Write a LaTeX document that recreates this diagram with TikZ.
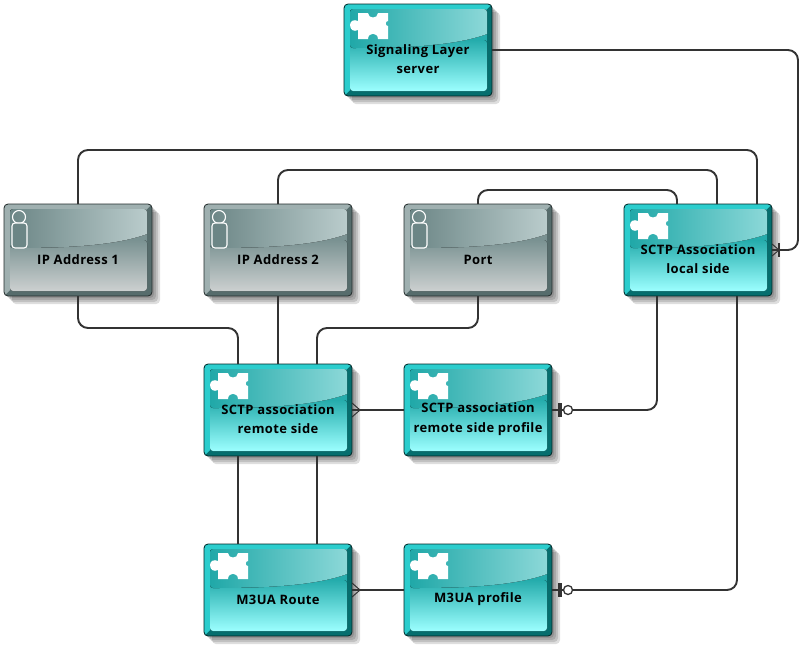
\documentclass[tikz,border=0pt]{standalone}
\usepackage{fontspec}
\setmainfont[LetterSpace=3]{Open Sans}
\usetikzlibrary{backgrounds,decorations.markings}
\definecolor{tealedge}{HTML}{2CCDCD}
\definecolor{tealdark}{HTML}{056E6E}
\definecolor{tealglossl}{HTML}{20A8A8}
\definecolor{tealglossr}{HTML}{8CD8D8}
\definecolor{tealtop}{HTML}{25ACAC}
\definecolor{teallow}{HTML}{9CFFFF}
\definecolor{greyedge}{HTML}{9FB0B0}
\definecolor{greydark}{HTML}{566C6C}
\definecolor{greyglossl}{HTML}{6C8686}
\definecolor{greyglossr}{HTML}{BACCCC}
\definecolor{greytop}{HTML}{7A9292}
\definecolor{greylow}{HTML}{CCD0D0}
\definecolor{linkcolor}{HTML}{333333}
% face of a box: soft shadow, edges, lower gradient, gloss
\newcommand{\boxface}[1]{
    \foreach \s in {2,4,6,8}
        \fill[black,opacity=0.13,rounded corners=4pt] (\s,\s) rectangle (148+\s,92+\s);
    \begin{scope}
        \clip[rounded corners=4pt] (0,0) rectangle (148,92);
        \fill[#1dark] (0,0) rectangle (148,92);
        \fill[#1edge] (0,0) -- (148,0) -- (142,6) -- (6,6) -- (6,86) -- (0,92) -- cycle;
    \end{scope}
    \fill[#1top] (6,20) rectangle (143,50);
    \fill[rounded corners=3pt,top color=#1top,bottom color=#1low] (6,36) rectangle (143,87);
    \fill[left color=#1glossl,right color=#1glossr] (6,44) .. controls (60,44) and (110,42) .. (143,30)
        -- (143,8) [rounded corners=3pt] -- (143,5) -- (6,5) -- cycle;
}
\begin{document}
\begin{tikzpicture}[x=1pt,y=-1pt]
    \tikzset{basebox/.style = {shape=rectangle, rounded corners=4pt, draw=black!70!teal, line width=0.8pt,
        minimum width=148pt, minimum height=92pt, inner sep=0pt, outer sep=0pt, align=center,
        font=\fontsize{13}{19.5}\selectfont\bfseries,
        execute at begin node={\rule{0pt}{29pt}}}}
    \tikzset{twolines/.style = {execute at begin node={\rule{0pt}{48pt}}}}
    \tikzset{entity/.style = {basebox}}
    \tikzset{attribute/.style = {basebox, draw=black!60!greydark}}
    \tikzset{entityface/.pic = {
        \boxface{teal}
        \fill[white] (14,9) -- (24,9) .. controls (24,15) and (34,15) .. (34,9) -- (44,9) -- (44,17)
            .. controls (41,17) and (41,22) .. (44,22) -- (44,35) -- (34,35) .. controls (34,28) and (24,28) .. (24,35)
            -- (14,35) -- (14,26) .. controls (10,28) and (6,26) .. (6,21) .. controls (6,17) and (10,15) .. (14,17) -- cycle;}}
    \tikzset{attributeface/.pic = {
        \boxface{grey}
        \draw[white,line width=1.1pt] (15,13) circle (6.5);
        \draw[white,line width=1.1pt,rounded corners=3pt,fill=greyglossl] (8,19) rectangle (23,44);}}
    \tikzset{link/.style = {draw=linkcolor, line width=1.9pt, rounded corners=10pt}}
    \tikzset{manymark/.style = {postaction={decorate, decoration={markings, mark=at position 8pt with {
        \draw[linkcolor,line width=1pt] (0,0) -- (-8,7) (0,0) -- (-8,-7);}}}}}
    \tikzset{onemanymark/.style = {postaction={decorate, decoration={markings, mark=at position 7pt with {
        \draw[linkcolor,line width=1pt] (0,0) -- (-7,6) (0,0) -- (-7,-6);
        \draw[linkcolor,line width=1.4pt] (0,-7) -- (0,7);}}}}}
    \tikzset{zeroonemark/.style = {postaction={decorate, decoration={markings,
        mark=at position 8pt with {\draw[linkcolor,line width=3.5pt] (0,-7) -- (0,7);},
        mark=at position 16pt with {\draw[linkcolor,line width=1.3pt,fill=white] (0,0) circle (4.5);}}}}}
    % nodes
    \node[entity,twolines] (server) at (418,50) {Signaling Layer\\server};
    \node[attribute] (ipone) at (78,250) {IP Address 1};
    \node[attribute] (iptwo) at (278,250) {IP Address 2};
    \node[attribute] (port) at (478,250) {Port};
    \node[entity,twolines] (local) at (698,250) {SCTP Association\\local side};
    \node[entity,twolines] (remote) at (278,410) {SCTP association\\remote side};
    \node[entity,twolines] (remprofile) at (478,410) {SCTP association\\remote side profile};
    \node[entity] (route) at (278,590) {M3UA Route};
    \node[entity] (m3profile) at (478,590) {M3UA profile};
    \coordinate (serverturn) at (798,50);
    % faces
    \begin{pgfonlayer}{background}
        \foreach \b in {server,local,remote,remprofile,route,m3profile}
            \pic at (\b.north west) {entityface};
        \foreach \b in {ipone,iptwo,port}
            \pic at (\b.north west) {attributeface};
    \end{pgfonlayer}
    % links
    \draw[link,onemanymark] (local.east) -| (serverturn) -- (server.east);
    \draw[link] (ipone.north) -- ++(0,-54) -| ([xshift=59pt]local.north);
    \draw[link] (iptwo.north) -- ++(0,-34) -| ([xshift=19pt]local.north);
    \draw[link] (port.north) -- ++(0,-14) -| ([xshift=-21pt]local.north);
    \draw[link] (ipone.south) -- ++(0,32) -| ([xshift=-40pt]remote.north);
    \draw[link] (iptwo.south) -- (remote.north);
    \draw[link] (port.south) -- ++(0,32) -| ([xshift=39pt]remote.north);
    \draw[link,manymark] (remote.east) -- (remprofile.west);
    \draw[link,zeroonemark] (remprofile.east) -| ([xshift=-41pt]local.south);
    \draw[link] ([xshift=-40pt]remote.south) -- ([xshift=-40pt]route.north);
    \draw[link] ([xshift=39pt]remote.south) -- ([xshift=39pt]route.north);
    \draw[link,manymark] (route.east) -- (m3profile.west);
    \draw[link,zeroonemark] (m3profile.east) -| ([xshift=39pt]local.south);
    \useasboundingbox (0,0) rectangle (802,646);
\end{tikzpicture}
\end{document}
